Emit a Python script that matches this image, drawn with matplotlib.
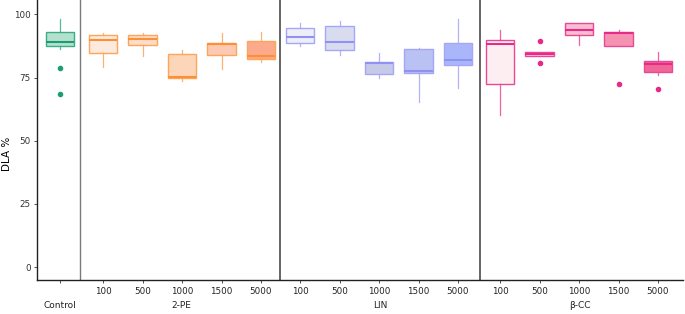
import matplotlib
matplotlib.use("Agg")
import matplotlib.pyplot as plt
import numpy as np

# ---- data ----
groups = ["Control", "2-PE", "LIN", "β-CC"]
doses = ["100", "500", "1000", "1500", "5000"]

control_stats = dict(q1=87.5, med=89.2, q3=93.2, whislo=86.3, whishi=98.1, fliers=[78.6, 68.6])

pe_q1 = [84.9, 87.9, 74.9, 84.0, 82.4]
pe_med = [89.8, 90.4, 75.1, 88.3, 83.6]
pe_q3 = [91.9, 91.9, 84.2, 88.7, 89.6]
pe_lo = [79.2, 83.4, 73.6, 78.3, 81.3]
pe_hi = [92.7, 92.8, 85.8, 92.6, 93.0]
pe_fliers = [[], [], [], [], []]

lin_q1 = [88.5, 86.0, 76.6, 77.0, 79.8]
lin_med = [91.1, 89.1, 80.8, 77.8, 81.9]
lin_q3 = [94.8, 95.6, 81.2, 86.5, 88.5]
lin_lo = [87.4, 84.1, 75.0, 65.4, 70.7]
lin_hi = [96.6, 97.4, 84.9, 86.9, 98.3]
lin_fliers = [[], [], [], [], []]

bcc_q1 = [72.4, 83.6, 91.7, 87.3, 77.4]
bcc_med = [88.2, 84.3, 94.0, 92.5, 80.3]
bcc_q3 = [89.8, 85.0, 96.6, 92.9, 81.6]
bcc_lo = [60.0, 83.6, 87.7, 87.3, 76.0]
bcc_hi = [93.8, 85.0, 96.6, 93.7, 85.1]
bcc_fliers = [[], [89.5, 80.8], [], [72.3], [70.4]]

yticks = [0, 25, 50, 75, 100]

# ---- styles ----
control_edge = "#3aac88"
control_fill = "#b3e1cd"
pe_edge = "#fda55a"
pe_fills = ["#fdeadf", "#fddcca", "#fdd6b9", "#fdc9b2", "#fcaa8c"]
lin_edge = "#a5a7f5"
lin_fills = ["#eeeef8", "#d9dcef", "#c6c9e9", "#b9c2f3", "#a9b7fa"]
bcc_edge = "#ea4896"
bcc_fills = ["#fdeff1", "#fad2de", "#f9bed1", "#f592b2", "#ef6796"]
median_colors = {"c": "#1b9e77", "pe": "#fd9035", "lin": "#8f92f2", "bcc": "#e7298a"}

W, H = 685, 314
fig = plt.figure(figsize=(W / 100, H / 100), dpi=100)
ax = fig.add_axes([37 / W, (H - 280) / H, (683 - 37) / W, 280 / H])

unit = 39.5  # px per category
def xpos(px):
    return (px - 37) / unit

ctrl_x = xpos(60)
group_starts = [xpos(103), xpos(300), xpos(500)]
seps = [xpos(80), xpos(280), xpos(480)]

def draw(stats, positions, edge, fills, medc):
    for st, p, fc in zip(stats, positions, fills):
        ax.bxp([st], positions=[p], widths=0.72, patch_artist=True, showcaps=False,
               boxprops=dict(facecolor=fc, edgecolor=edge, linewidth=1.0),
               medianprops=dict(color=medc, linewidth=1.5),
               whiskerprops=dict(color=edge, linewidth=0.9, alpha=0.85),
               flierprops=dict(marker="o", markersize=3, markerfacecolor=medc,
                               markeredgecolor=medc))

def mk(q1, med, q3, lo, hi, fl):
    return [dict(q1=a, med=b, q3=c, whislo=d, whishi=e, fliers=f)
            for a, b, c, d, e, f in zip(q1, med, q3, lo, hi, fl)]

draw([control_stats], [ctrl_x], control_edge, [control_fill], median_colors["c"])
series = [
    (mk(pe_q1, pe_med, pe_q3, pe_lo, pe_hi, pe_fliers), pe_edge, pe_fills, median_colors["pe"]),
    (mk(lin_q1, lin_med, lin_q3, lin_lo, lin_hi, lin_fliers), lin_edge, lin_fills, median_colors["lin"]),
    (mk(bcc_q1, bcc_med, bcc_q3, bcc_lo, bcc_hi, bcc_fliers), bcc_edge, bcc_fills, median_colors["bcc"]),
]
tick_pos = [ctrl_x]
tick_lab = [""]
for (st, ec, fc, mc), start in zip(series, group_starts):
    pos = [start + i for i in range(len(doses))]
    draw(st, pos, ec, fc, mc)
    tick_pos += pos
    tick_lab += doses

ax.axvline(seps[0], color="#7a7a7a", linewidth=1.0)
ax.axvline(seps[1], color="#3a3a3a", linewidth=1.1)
ax.axvline(seps[2], color="#3a3a3a", linewidth=1.1)

ax.set_xlim(0, xpos(683))
ax.set_ylim(-5.1, 105.7)
ax.set_yticks(yticks)
ax.set_yticklabels([str(v) for v in yticks], fontsize=6.3, color="#333333")
ax.set_xticks(tick_pos)
ax.set_xticklabels(tick_lab, fontsize=6.3, color="#222222")
ax.tick_params(axis="both", length=2.5, width=0.6, color="#333333", pad=2)
ax.tick_params(axis="x", pad=2.5)
ax.set_ylabel("DLA %", fontsize=7.5)
ax.yaxis.set_label_coords((12 - 37) / (683 - 37), (267 - 141) / 280)
for s in ["top", "right"]:
    ax.spines[s].set_visible(False)
for s in ["left", "bottom"]:
    ax.spines[s].set_linewidth(1.0)
    ax.spines[s].set_color("#222222")

# group labels
label_x = [60, 181, 380, 580]
for g, lx in zip(groups, label_x):
    fig.text(lx / W, 1 - 306 / H, g, ha="center", va="center", fontsize=6.5, color="#222222")

fig.savefig("out.png", dpi=100)
